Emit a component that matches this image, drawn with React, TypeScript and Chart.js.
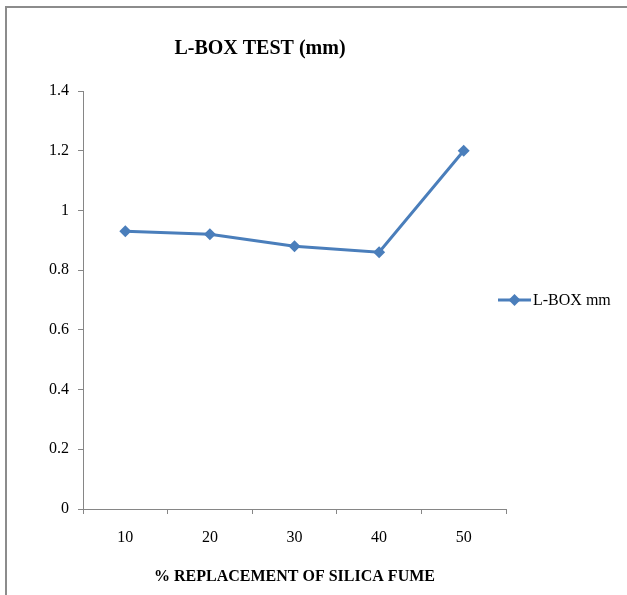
import React, { useEffect, useRef } from "react";
import { Chart, registerables } from "chart.js";

Chart.register(...registerables);

const TITLE = "L-BOX TEST (mm)";
const X_TITLE = "% REPLACEMENT OF SILICA FUME";
const SERIES_LABEL = "L-BOX mm";
const categories = ["10", "20", "30", "40", "50"];
const values = [0.93, 0.92, 0.88, 0.86, 1.2];
const Y_MIN = 0;
const Y_MAX = 1.4;
const Y_STEP = 0.2;

const LINE_COLOR = "#4A7EBB";
const AXIS_COLOR = "#868686";
const FONT = "'Liberation Serif', 'Times New Roman', serif";

const W = 627;
const H = 595;

const customText = {
  id: "customText",
  afterDraw(chart: any) {
    const ctx = chart.ctx;
    const area = chart.chartArea;
    ctx.save();
    // Title
    ctx.fillStyle = "#000";
    ctx.font = `bold 20px ${FONT}`;
    ctx.textAlign = "center";
    ctx.textBaseline = "middle";
    ctx.fillText(TITLE, 260, 49);
    // Legend
    const ds = chart.data.datasets[0];
    const ly = (area.top + area.bottom) / 2;
    const lx = 498;
    ctx.strokeStyle = ds.borderColor;
    ctx.lineWidth = 3;
    ctx.beginPath();
    ctx.moveTo(lx, ly);
    ctx.lineTo(lx + 33, ly);
    ctx.stroke();
    ctx.fillStyle = ds.borderColor;
    const cx = lx + 16.5;
    const r = 6;
    ctx.beginPath();
    ctx.moveTo(cx - r, ly);
    ctx.lineTo(cx, ly - r);
    ctx.lineTo(cx + r, ly);
    ctx.lineTo(cx, ly + r);
    ctx.closePath();
    ctx.fill();
    ctx.fillStyle = "#000";
    ctx.font = `16px ${FONT}`;
    ctx.textAlign = "left";
    ctx.textBaseline = "middle";
    ctx.fillText(ds.label, lx + 35, ly + 1);
    ctx.restore();
  },
};

export default function App() {
  const ref = useRef<HTMLCanvasElement | null>(null);

  useEffect(() => {
    if (!ref.current) return;
    const chart = new Chart(ref.current, {
      type: "line",
      data: {
        labels: categories,
        datasets: [
          {
            label: SERIES_LABEL,
            data: values,
            borderColor: LINE_COLOR,
            backgroundColor: LINE_COLOR,
            borderWidth: 3,
            pointStyle: "rectRot",
            pointRadius: 6,
            pointBorderWidth: 0,
            pointBackgroundColor: LINE_COLOR,
            tension: 0,
          },
        ],
      },
      options: {
        animation: false,
        responsive: false,
        maintainAspectRatio: false,
        layout: { padding: { left: 0, top: 91, right: 121, bottom: 0 } },
        plugins: {
          legend: { display: false },
          title: { display: false },
          tooltip: { enabled: false },
        },
        scales: {
          x: {
            type: "category",
            offset: true,
            border: { display: true, color: AXIS_COLOR, width: 1 },
            grid: {
              offset: true,
              drawOnChartArea: false,
              drawTicks: true,
              tickLength: 5,
              color: AXIS_COLOR,
            },
            ticks: {
              color: "#000",
              font: { family: FONT, size: 16 },
              padding: 14,
              maxRotation: 0,
            },
            title: {
              display: true,
              text: X_TITLE,
              color: "#000",
              font: { family: FONT, size: 16, weight: "bold" },
              padding: { top: 0, bottom: 9 },
            },
            afterFit(scale: any) {
              scale.height = H - 509;
            },
          },
          y: {
            min: Y_MIN,
            max: Y_MAX,
            border: { display: true, color: AXIS_COLOR, width: 1 },
            grid: {
              drawOnChartArea: false,
              drawTicks: true,
              tickLength: 5,
              color: AXIS_COLOR,
            },
            ticks: {
              stepSize: Y_STEP,
              color: "#000",
              font: { family: FONT, size: 16 },
              padding: 9,
              callback: (v: any) => String(Math.round(Number(v) * 10) / 10),
            },
            afterFit(scale: any) {
              scale.width = 83;
            },
          },
        },
      },
      plugins: [customText],
    });
    return () => chart.destroy();
  }, []);

  return (
    <div style={{ position: "absolute", left: 0, top: 0, width: W, height: H, background: "#fff", overflow: "hidden" }}>
      <div
        style={{
          position: "absolute",
          left: 5,
          top: 6,
          width: W,
          height: H,
          borderLeft: "2px solid #8c8c8c",
          borderTop: "2px solid #8c8c8c",
        }}
      />
      <canvas ref={ref} width={W} height={H} style={{ position: "absolute", left: 0, top: 0, width: W, height: H }} />
    </div>
  );
}
